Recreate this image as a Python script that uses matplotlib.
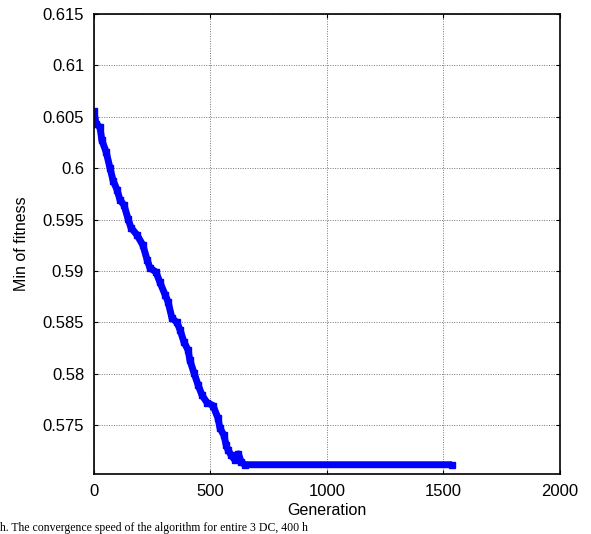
import numpy as np
import matplotlib.pyplot as plt
from matplotlib.ticker import FuncFormatter

plt.rcParams['font.family'] = ['Liberation Sans', 'DejaVu Sans']

# traced points of the convergence curve (generation, min fitness)
gen = [0, 9, 26, 34, 52, 69, 82, 99, 112, 129, 146, 159, 185, 210, 228, 240,
       266, 283, 305, 318, 335, 356, 369, 386, 404, 412, 429, 447, 464, 485,
       511, 532, 541, 558, 567, 575, 588, 605, 620, 632, 648, 1537]
fit = [0.6056, 0.6043, 0.6040, 0.6027, 0.6016, 0.6000, 0.5988, 0.5979, 0.5969,
       0.5964, 0.5951, 0.5942, 0.5935, 0.5925, 0.5911, 0.5903, 0.5899, 0.5889,
       0.5877, 0.5870, 0.5854, 0.5850, 0.5843, 0.5831, 0.5823, 0.5813, 0.5801,
       0.5789, 0.5779, 0.5772, 0.5769, 0.5757, 0.5747, 0.5740, 0.5731, 0.5726,
       0.5721, 0.5716, 0.5722, 0.5714, 0.57115, 0.57115]

xticks = [0, 500, 1000, 1500, 2000]
yticks = [0.575, 0.58, 0.585, 0.59, 0.595, 0.6, 0.605, 0.61, 0.615]

fig = plt.figure(figsize=(5.91, 5.34), dpi=100)
ax = fig.add_axes([0.159, 0.1124, 0.7885, 0.8614])

ax.plot(gen, fit, color='blue', lw=5, solid_capstyle='butt',
        solid_joinstyle='round', marker='s', ms=4.5)

ax.set_xlim(0, 2000)
ax.set_ylim(0.57025, 0.615)
ax.set_xticks(xticks)
ax.set_yticks(yticks)
ax.yaxis.set_major_formatter(FuncFormatter(lambda v, p: '%g' % v))
ax.grid(True, ls=(0, (1, 1.5)), color='#777777', lw=0.7)
ax.tick_params(direction='in', top=True, right=True, length=3,
               labelsize=12, pad=7)
for s in ax.spines.values():
    s.set_linewidth(1.2)

ax.set_xlabel('Generation', fontsize=11.5, labelpad=3)
ax.set_ylabel('Min of fitness', fontsize=11.5, labelpad=10)

fig.text(0.0, 0.0, 'h. The convergence speed of the algorithm for entire 3 DC, 400 h',
         fontsize=8.5, family='Liberation Serif', va='bottom', ha='left')

fig.savefig('out.png', dpi=100)
